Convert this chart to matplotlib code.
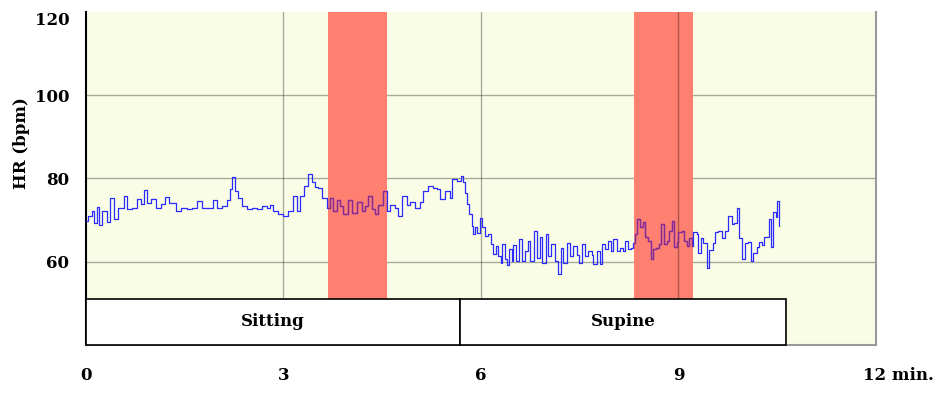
import numpy as np
import matplotlib
matplotlib.use("Agg")
import matplotlib.pyplot as plt
from matplotlib.patches import Rectangle
from matplotlib.transforms import ScaledTranslation

# heart rate (time in min, HR in bpm)
t_min = [0.00, 0.03, 0.09, 0.12, 0.17, 0.20, 0.24, 0.32, 0.36, 0.43, 0.49, 0.53, 0.58, 0.62,
         0.70, 0.77, 0.84, 0.88, 0.93, 0.99, 1.06, 1.14, 1.20, 1.26, 1.37, 1.44, 1.53, 1.61,
         1.69, 1.76, 1.84, 1.93, 1.99, 2.07, 2.14, 2.19, 2.22, 2.26, 2.31, 2.37, 2.45, 2.52,
         2.60, 2.67, 2.75, 2.80, 2.84, 2.92, 2.99, 3.07, 3.14, 3.21, 3.25, 3.31, 3.37, 3.43,
         3.48, 3.52, 3.59, 3.66, 3.71, 3.75, 3.81, 3.86, 3.90, 3.98, 4.04, 4.12, 4.19, 4.24,
         4.28, 4.34, 4.39, 4.44, 4.51, 4.57, 4.62, 4.69, 4.74, 4.80, 4.88, 4.92, 5.00, 5.07,
         5.12, 5.20, 5.27, 5.33, 5.38, 5.45, 5.53, 5.56, 5.64, 5.70, 5.73, 5.76, 5.79, 5.82,
         5.86, 5.88, 5.91, 5.94, 5.99, 6.02, 6.06, 6.11, 6.15, 6.18, 6.23, 6.26, 6.30, 6.32,
         6.37, 6.40, 6.43, 6.47, 6.49, 6.53, 6.58, 6.62, 6.67, 6.71, 6.74, 6.81, 6.85, 6.90,
         6.93, 6.99, 7.02, 7.06, 7.12, 7.17, 7.22, 7.25, 7.31, 7.35, 7.40, 7.46, 7.49, 7.53,
         7.58, 7.63, 7.69, 7.70, 7.76, 7.81, 7.84, 7.88, 7.93, 7.98, 8.01, 8.07, 8.11, 8.16,
         8.19, 8.23, 8.28, 8.31, 8.34, 8.37, 8.42, 8.46, 8.49, 8.54, 8.58, 8.61, 8.66, 8.70,
         8.73, 8.78, 8.83, 8.86, 8.90, 8.93, 8.98, 8.99, 9.05, 9.08, 9.13, 9.16, 9.21, 9.22,
         9.28, 9.30, 9.34, 9.37, 9.43, 9.46, 9.52, 9.56, 9.60, 9.66, 9.71, 9.75, 9.81, 9.84,
         9.89, 9.92, 9.97, 10.01, 10.06, 10.10, 10.13, 10.19, 10.22, 10.27, 10.30, 10.35,
         10.38, 10.41, 10.44, 10.48, 10.50, 10.53]
hr = [69.8, 71.0, 72.2, 69.3, 73.2, 68.9, 72.3, 69.5, 75.4, 70.3, 72.9, 72.9, 75.8, 72.7,
      72.9, 75.1, 73.9, 77.2, 74.0, 75.0, 73.0, 73.8, 75.6, 74.0, 72.2, 73.0, 72.6, 73.0,
      74.7, 73.0, 73.0, 74.9, 72.9, 73.3, 74.8, 77.5, 80.4, 77.0, 75.3, 73.3, 72.6, 73.0,
      72.6, 73.3, 73.0, 73.7, 72.2, 71.5, 71.1, 72.2, 75.8, 72.2, 75.8, 78.2, 81.0, 79.2,
      78.0, 77.8, 75.4, 73.0, 75.4, 72.2, 74.8, 73.4, 71.5, 74.8, 71.8, 74.4, 72.2, 73.3,
      75.8, 72.6, 71.5, 73.7, 77.0, 72.2, 73.7, 73.0, 71.0, 75.8, 73.7, 74.4, 73.0, 74.4,
      77.0, 78.2, 77.8, 77.4, 75.1, 77.0, 75.4, 79.9, 79.5, 80.6, 79.2, 76.6, 73.9, 71.5,
      68.6, 66.7, 68.4, 67.0, 70.6, 68.3, 66.2, 66.7, 64.3, 61.9, 63.8, 61.4, 59.8, 64.3,
      60.6, 59.1, 63.0, 60.2, 64.0, 60.2, 65.5, 60.2, 62.6, 65.1, 60.2, 67.4, 60.8, 65.9,
      59.8, 66.7, 61.4, 64.3, 60.2, 57.1, 63.4, 59.6, 64.6, 61.4, 63.8, 61.6, 59.8, 64.3,
      61.4, 62.5, 61.6, 59.4, 62.5, 59.4, 64.3, 63.1, 65.0, 62.5, 65.4, 62.5, 63.4, 62.5,
      65.0, 63.0, 63.4, 64.6, 66.7, 70.3, 68.3, 69.5, 65.9, 65.0, 60.7, 63.0, 63.4, 64.3,
      69.1, 64.3, 65.0, 67.4, 69.8, 63.6, 64.8, 67.1, 67.5, 65.1, 63.8, 65.8, 63.8, 67.1,
      66.7, 62.2, 65.8, 64.6, 58.6, 62.9, 64.6, 67.1, 67.5, 65.8, 67.5, 71.0, 69.0, 69.4,
      73.0, 65.8, 60.7, 64.4, 64.8, 60.3, 62.0, 63.6, 64.8, 64.0, 66.0, 66.0, 70.3, 63.6,
      71.9, 70.7, 74.6, 68.5]

# highlighted windows (min)
windows = [(3.68, 4.57), (8.33, 9.22)]
# posture periods (min)
phases = ["Sitting", "Supine"]
phase_start = [0.0, 5.68]
phase_end = [5.68, 10.63]

xticks = [0, 3, 6, 9, 12]
xlabels = ["0", "3", "6", "9", "12 min."]
yticks = [60, 80, 100, 120]

font = "DejaVu Serif"
fs = 12

fig = plt.figure(figsize=(9.37, 3.94), dpi=100)
ax = fig.add_axes([86 / 937, 1 - 345 / 394, 790 / 937, 333 / 394])
ax.set_facecolor("#fafde6")
ax.set_xlim(0, 12)
ax.set_ylim(40, 120)

for y in yticks[:-1]:
    ax.axhline(y, color="black", alpha=0.33, lw=1, zorder=1)

spans = []
for a, b in windows:
    r = ax.axvspan(a, b, color="#ff8070", lw=0, zorder=2)
    spans.append(r)

for x in xticks[1:-1]:
    ax.axvline(x, color="black", alpha=0.33, lw=1, zorder=3)

ax.plot(t_min, hr, color="#2a2aff", lw=0.9, drawstyle="steps-post", zorder=4)
# trace looks purple through the red windows
for r in spans:
    ln, = ax.plot(t_min, hr, color="#8a2a90", lw=0.9, drawstyle="steps-post", zorder=5)
    ln.set_clip_path(r)

for name, a, b in zip(phases, phase_start, phase_end):
    ax.add_patch(Rectangle((a, 40), b - a, 11.1, facecolor="white", edgecolor="black",
                           lw=1.2, zorder=6, clip_on=False))
    ax.text((a + b) / 2, 45.6, name, ha="center", va="center", fontsize=fs,
            fontweight="bold", family=font, zorder=7)

ax.spines["top"].set_visible(False)
ax.spines["left"].set_color("black")
ax.spines["left"].set_linewidth(1.5)
for s in ["right", "bottom"]:
    ax.spines[s].set_color("#999999")
    ax.spines[s].set_linewidth(1.5)

ax.set_xticks(xticks)
ax.set_xticklabels(xlabels, fontsize=fs, fontweight="bold", family=font)
ax.set_yticks(yticks)
ax.set_yticklabels([str(v) for v in yticks], fontsize=fs, fontweight="bold", family=font)
ax.tick_params(axis="x", length=0, pad=16)
ax.tick_params(axis="y", length=0, pad=12)

lab = ax.get_xticklabels()[-1]
lab.set_horizontalalignment("left")
lab.set_transform(lab.get_transform() + ScaledTranslation(-0.13, 0, fig.dpi_scale_trans))
lab = ax.get_yticklabels()[-1]
lab.set_transform(lab.get_transform() + ScaledTranslation(0, -0.07, fig.dpi_scale_trans))

ax.set_ylabel("HR (bpm)", fontsize=fs, fontweight="bold", family=font)
ax.yaxis.set_label_coords(-0.071, 0.607)

plt.savefig("out.png", dpi=100)
plt.close()
